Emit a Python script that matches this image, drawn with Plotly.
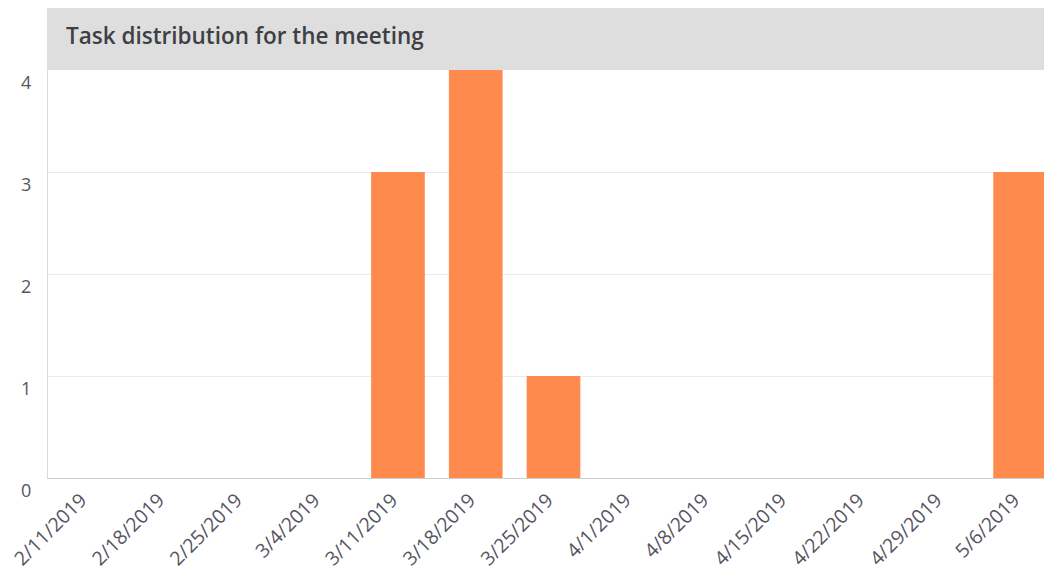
import plotly.graph_objects as go

weeks = ["2/11/2019", "2/18/2019", "2/25/2019", "3/4/2019", "3/11/2019", "3/18/2019",
         "3/25/2019", "4/1/2019", "4/8/2019", "4/15/2019", "4/22/2019", "4/29/2019", "5/6/2019"]
tasks = [0, 0, 0, 0, 3, 4, 1, 0, 0, 0, 0, 0, 3]
y_ticks = [0, 1, 2, 3, 4]

title_text = "Task distribution for the meeting"

# page body has an 8px default margin, so the figure sits at (8, 8)
W, H = 1044, 566
L, T, B = 38, 62, 470  # plot left, top, bottom in figure pixels

fig = go.Figure(
    go.Bar(
        x=weeks,
        y=tasks,
        marker=dict(color="#FE8A4E", line=dict(width=0)),
        hoverinfo="x+y",
    )
)

plot_h = B - T
fig.update_layout(
    width=W,
    height=H,
    margin=dict(l=L, r=0, t=T, b=H - B),
    paper_bgcolor="white",
    plot_bgcolor="white",
    bargap=0.31,
    showlegend=False,
    title=dict(
        text=title_text,
        x=58 / W,
        xanchor="left",
        xref="container",
        y=1 - 28 / H,
        yanchor="middle",
        yref="container",
        font=dict(family="Open Sans", size=22.5, color="#3f3f46", weight=600),
    ),
    shapes=[
        dict(
            type="rect",
            xref="paper",
            yref="paper",
            x0=-1 / (W - L),
            x1=1.01,
            y0=1.0,
            y1=B / plot_h,
            fillcolor="#DEDEDE",
            line=dict(width=0),
            layer="below",
        )
    ],
)

fig.update_xaxes(
    type="category",
    range=[-0.5, 12.41],
    tickangle=-45,
    tickfont=dict(family="Open Sans", size=19.5, color="#555562"),
    ticklabelshift=-6,
    ticklabelstandoff=2,
    showgrid=False,
    showline=True,
    linecolor="#CFCFCF",
    linewidth=1,
    ticks="",
)

fig.update_yaxes(
    range=[0, 4],
    tickvals=y_ticks,
    ticktext=[str(v) for v in y_ticks],
    tickfont=dict(family="Open Sans", size=18, color="#555562"),
    ticklabelposition="outside bottom",
    ticklabelstandoff=12,
    showgrid=True,
    gridcolor="#EBEBEB",
    gridwidth=1,
    zeroline=False,
    showline=True,
    linecolor="#DADADA",
    linewidth=1,
    ticks="",
)

fig.write_html("out.html")
